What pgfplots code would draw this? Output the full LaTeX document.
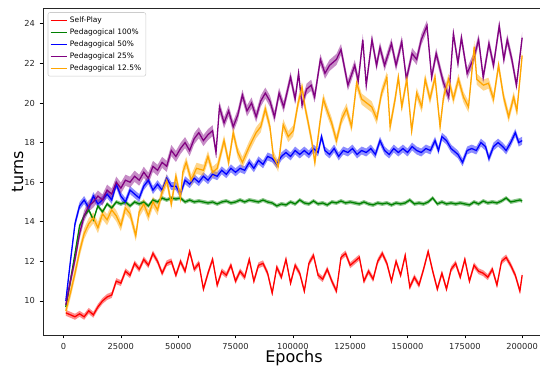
\documentclass[border=0pt]{standalone}
\usepackage{pgfplots}
\pgfplotsset{compat=1.18}
\usepackage{pgfplotstable}
\usepgfplotslibrary{fillbetween}
\usepackage{fontspec}
\setmainfont{DejaVu Sans}
\definecolor{mplred}{HTML}{FF0000}
\definecolor{mplgreen}{HTML}{008000}
\definecolor{mplblue}{HTML}{0000FF}
\definecolor{mplpurple}{HTML}{800080}
\definecolor{mplorange}{HTML}{FFA500}

\pgfplotstableread{
x y
1000 9.4
3000 9.3
5000 9.2
7000 9.35
9000 9.2
11000 9.5
13000 9.3
15000 9.7
17000 10.0
19000 10.2
21000 10.3
23000 11.0
25000 10.9
27000 11.5
29000 11.3
31000 11.9
33000 11.6
35000 12.1
37000 11.8
39000 12.4
41000 12.0
43000 11.4
45000 11.9
47000 12.0
49000 11.3
51000 12.0
53000 11.5
55000 12.5
57000 11.6
59000 11.9
61000 10.6
63000 11.4
65000 12.1
67000 10.8
69000 11.5
71000 11.3
73000 11.8
75000 11.0
77000 11.5
79000 11.2
81000 12.1
83000 11.0
85000 11.8
87000 11.9
89000 11.4
91000 10.4
93000 11.7
95000 11.2
97000 12.1
99000 10.9
101000 11.8
103000 11.4
105000 10.5
107000 11.9
109000 12.3
111000 11.3
113000 11.1
115000 11.6
117000 11.0
119000 10.5
121000 12.2
123000 12.4
125000 11.8
127000 12.0
129000 12.2
131000 11.0
133000 11.5
135000 11.1
137000 12.0
139000 12.4
141000 11.9
143000 11.0
145000 12.0
147000 11.3
149000 12.3
151000 10.7
153000 11.2
155000 10.8
157000 11.6
159000 12.5
161000 11.5
163000 10.6
165000 11.4
167000 10.6
169000 11.6
171000 11.9
173000 11.2
175000 12.1
177000 11.0
179000 11.8
181000 11.5
183000 11.4
185000 11.2
187000 11.6
189000 10.8
191000 12.0
193000 12.2
195000 11.8
197000 11.3
199000 10.5
200000 11.3
}\tblred

\pgfplotstableread{
x y
1000 9.7
3000 11.0
5000 12.4
7000 13.8
9000 14.3
11000 14.6
13000 14.1
15000 14.8
17000 14.5
19000 14.9
21000 14.7
23000 15.0
25000 14.9
27000 15.0
29000 14.8
31000 15.0
33000 14.9
35000 15.0
37000 14.8
39000 15.1
41000 15.0
43000 15.2
45000 15.1
47000 15.2
49000 15.15
51000 15.2
53000 15.0
55000 15.1
57000 15.0
59000 15.05
61000 15.0
63000 14.95
65000 15.0
67000 14.9
69000 15.0
71000 15.05
73000 14.95
75000 15.0
77000 15.1
79000 15.0
81000 15.1
83000 15.05
85000 15.0
87000 15.1
89000 15.0
91000 14.95
93000 14.8
95000 14.9
97000 14.85
99000 15.0
101000 14.9
103000 15.1
105000 14.95
107000 14.9
109000 15.05
111000 14.9
113000 14.95
115000 14.85
117000 15.0
119000 14.95
121000 15.05
123000 14.95
125000 15.0
127000 14.95
129000 14.9
131000 15.0
133000 14.9
135000 14.85
137000 14.95
139000 14.9
141000 14.95
143000 14.85
145000 14.95
147000 14.9
149000 14.95
151000 15.1
153000 14.9
155000 14.95
157000 14.9
159000 15.0
161000 15.2
163000 14.9
165000 15.0
167000 14.9
169000 14.95
171000 14.9
173000 14.95
175000 14.9
177000 14.85
179000 15.0
181000 14.9
183000 15.05
185000 14.95
187000 15.0
189000 14.95
191000 15.05
193000 15.2
195000 15.0
197000 15.05
199000 15.1
200000 15.05
}\tblgreen

\pgfplotstableread{
x y
1000 10.0
3000 12.0
5000 13.9
7000 14.8
9000 15.1
11000 14.7
13000 15.3
15000 14.9
17000 15.1
19000 15.4
21000 15.1
23000 15.9
25000 15.3
27000 15.0
29000 15.6
31000 15.4
33000 15.2
35000 15.8
37000 16.1
39000 15.6
41000 15.9
43000 15.6
45000 16.2
47000 15.8
49000 15.8
51000 15.4
53000 16.1
55000 15.9
57000 16.2
59000 16.0
61000 16.3
63000 16.1
65000 16.4
67000 16.3
69000 16.6
71000 16.4
73000 16.7
75000 16.5
77000 16.7
79000 16.6
81000 17.0
83000 16.7
85000 17.1
87000 16.9
89000 17.3
91000 17.2
93000 16.9
95000 17.3
97000 17.5
99000 17.3
101000 17.6
103000 17.4
105000 17.6
107000 17.4
109000 17.7
111000 17.5
112500 18.3
114000 17.6
116000 17.4
118000 17.7
120000 17.3
122000 17.6
124000 17.5
126000 17.7
128000 17.4
130000 17.6
132000 17.5
134000 17.7
136000 17.4
138000 18.1
140000 17.6
142000 17.4
144000 17.7
146000 17.5
148000 17.7
150000 17.5
152000 17.8
154000 17.6
156000 17.5
158000 17.7
160000 17.6
162000 18.1
163500 17.6
165000 18.3
167000 18.1
169000 17.7
171000 17.5
172000 17.4
174000 17.0
176000 17.6
178000 17.7
180000 17.6
182000 18.0
184000 17.8
185500 17.2
187500 17.8
189500 18.0
191500 17.8
193000 17.6
195000 18.0
197000 18.5
198500 18.0
200000 18.1
}\tblblue

\pgfplotstableread{
x y
1000 9.8
3000 11.0
5000 12.1
7000 13.4
9000 14.3
11000 14.8
13000 15.0
15000 15.3
17000 15.1
19000 15.6
21000 15.4
23000 16.0
25000 15.7
27000 16.1
29000 16.0
31000 16.3
33000 16.1
35000 16.5
37000 16.2
39000 16.8
41000 16.6
43000 17.0
45000 16.8
47000 17.6
49000 17.3
51000 17.7
53000 18.0
55000 17.6
57000 18.2
59000 18.5
61000 18.1
63000 18.4
65000 18.6
66500 17.5
68000 19.8
70000 19.0
72000 19.6
74000 18.8
76000 19.4
78000 20.4
80000 19.6
82000 20.0
84000 19.3
86000 20.1
88000 20.5
90000 20.1
92000 19.3
94000 20.5
96000 19.8
99000 21.3
101000 20.2
102500 21.5
104000 19.9
106000 20.7
108000 20.9
109500 20.3
112000 22.2
114000 21.5
116000 21.9
119000 22.2
121000 22.7
124000 20.9
127000 21.9
128500 21.1
130500 23.2
132000 20.9
134500 23.2
136500 21.9
138000 22.8
140000 21.9
143000 23.0
145000 21.9
147500 23.1
149500 21.2
152000 22.5
154000 22.2
156000 23.2
158500 23.9
160500 21.3
162500 22.5
165500 21.1
168000 20.3
170000 23.5
172000 22.0
173500 23.3
176000 21.5
179000 22.3
181000 23.2
183000 21.3
185500 23.0
187500 21.9
190000 23.9
192000 22.2
193500 23.2
195500 22.2
197500 20.9
200000 23.3
}\tblpurple

\pgfplotstableread{
x y
1000 9.5
3000 10.4
5000 11.4
7000 12.5
9000 13.4
11000 13.9
13000 14.2
15000 13.7
17000 14.4
19000 14.1
21000 14.6
23000 14.3
25000 13.8
27000 14.7
29000 14.4
31500 13.3
33000 14.5
35000 14.9
37000 14.3
39000 15.0
41000 14.6
43000 15.5
45000 16.1
47000 14.9
49000 16.3
51000 15.2
52000 16.5
53500 17.0
55700 16.1
58000 16.7
61000 16.6
63000 17.3
65000 16.5
67000 16.7
70000 18.1
72000 17.0
74000 18.5
76000 17.5
78000 17.0
81000 17.8
84000 18.5
86000 18.8
88000 19.7
90000 18.8
91500 17.3
93600 16.8
95800 18.9
98000 18.3
100200 18.6
102300 20.0
104000 20.8
105300 19.8
106700 19.0
108200 18.1
109600 17.0
111800 19.0
113300 20.2
114700 19.7
116900 19.0
119000 18.1
121300 19.2
123400 19.7
125600 18.8
127800 21.0
130000 20.2
132200 20.0
134400 19.8
136600 19.2
138700 20.5
141000 21.3
142400 18.8
144600 20.2
146000 21.3
147500 19.8
149700 21.2
151800 18.6
154000 20.5
156200 19.8
157700 21.2
159800 20.2
162000 21.3
164200 18.8
165700 20.3
167900 21.2
170000 20.2
172200 21.2
174400 20.3
176600 19.8
179100 22.85
180200 21.2
183100 20.9
185300 21.0
187500 20.2
189700 21.9
191900 20.3
194100 19.3
196300 20.3
197700 19.6
200000 22.4
}\tblorange

\newcommand{\series}[5]{%
  \addplot[draw=none, name path=#4U, forget plot] table[x=x, y expr=\thisrow{y}+#3]{#1};
  \addplot[draw=none, name path=#4L, forget plot] table[x=x, y expr=\thisrow{y}-#3]{#1};
  \addplot[fill=#2, fill opacity=0.45, draw=none, forget plot] fill between[of=#4U and #4L];
  \addplot[color=#2, line width=0.95pt] table[x=x, y=y]{#1};
  \addlegendentry{#5}
}

\begin{document}
\begin{tikzpicture}
\begin{axis}[name=ax, scale only axis, width=376.5pt, height=245.25pt,
  xmin=-8950, xmax=209950, ymin=8.28, ymax=24.8,
  xtick={0,25000,50000,75000,100000,125000,150000,175000,200000},
  ytick={10,12,14,16,18,20,22,24},
  scaled x ticks=false,
  xticklabel style={/pgf/number format/fixed,/pgf/number format/1000 sep={}},
  /pgf/number format/assume math mode=true,
  tick label style={font=\fontsize{6.2}{7}\selectfont, color=black!85},
  tick align=outside, tick pos=left, major tick length=2.6pt,
  every tick/.style={black, line width=0.5pt},
  axis line style={line width=0.6pt, black!85},
  xlabel={Epochs}, ylabel={turns},
  every axis x label/.style={at={(axis description cs:0.5,-0.0848)}, anchor=base, font=\fontsize{12}{14}\selectfont},
  every axis y label/.style={at={(axis description cs:-0.0508,0.5)}, rotate=90, anchor=center, font=\fontsize{12}{14}\selectfont},
  legend style={at={(axis description cs:0.0094,0.987)}, anchor=north west,
    draw=black!20, rounded corners=1.5pt, fill=white,
    font=\fontsize{5.6}{6.5}\selectfont, row sep=0pt, inner xsep=1.5pt, inner ysep=1.5pt,
    nodes={inner ysep=1.6pt}},
  legend cell align=left,
  legend image code/.code={\draw[#1, line width=1pt, draw opacity=1] (0pt,0pt) -- (12pt,0pt);},
]
\series{\tblred}{mplred}{0.15}{r}{Self-Play}
\series{\tblgreen}{mplgreen}{0.1}{g}{Pedagogical 100\%}
\series{\tblblue}{mplblue}{0.2}{b}{Pedagogical 50\%}
\series{\tblpurple}{mplpurple}{0.28}{p}{Pedagogical 25\%}
\series{\tblorange}{mplorange}{0.28}{o}{Pedagogical 12.5\%}
\end{axis}
\pgfresetboundingbox
\path[use as bounding box] ([xshift=-32.25pt,yshift=-23.25pt]ax.south west) rectangle ([xshift=-3.75pt,yshift=6pt]ax.north east);
\end{tikzpicture}
\end{document}
